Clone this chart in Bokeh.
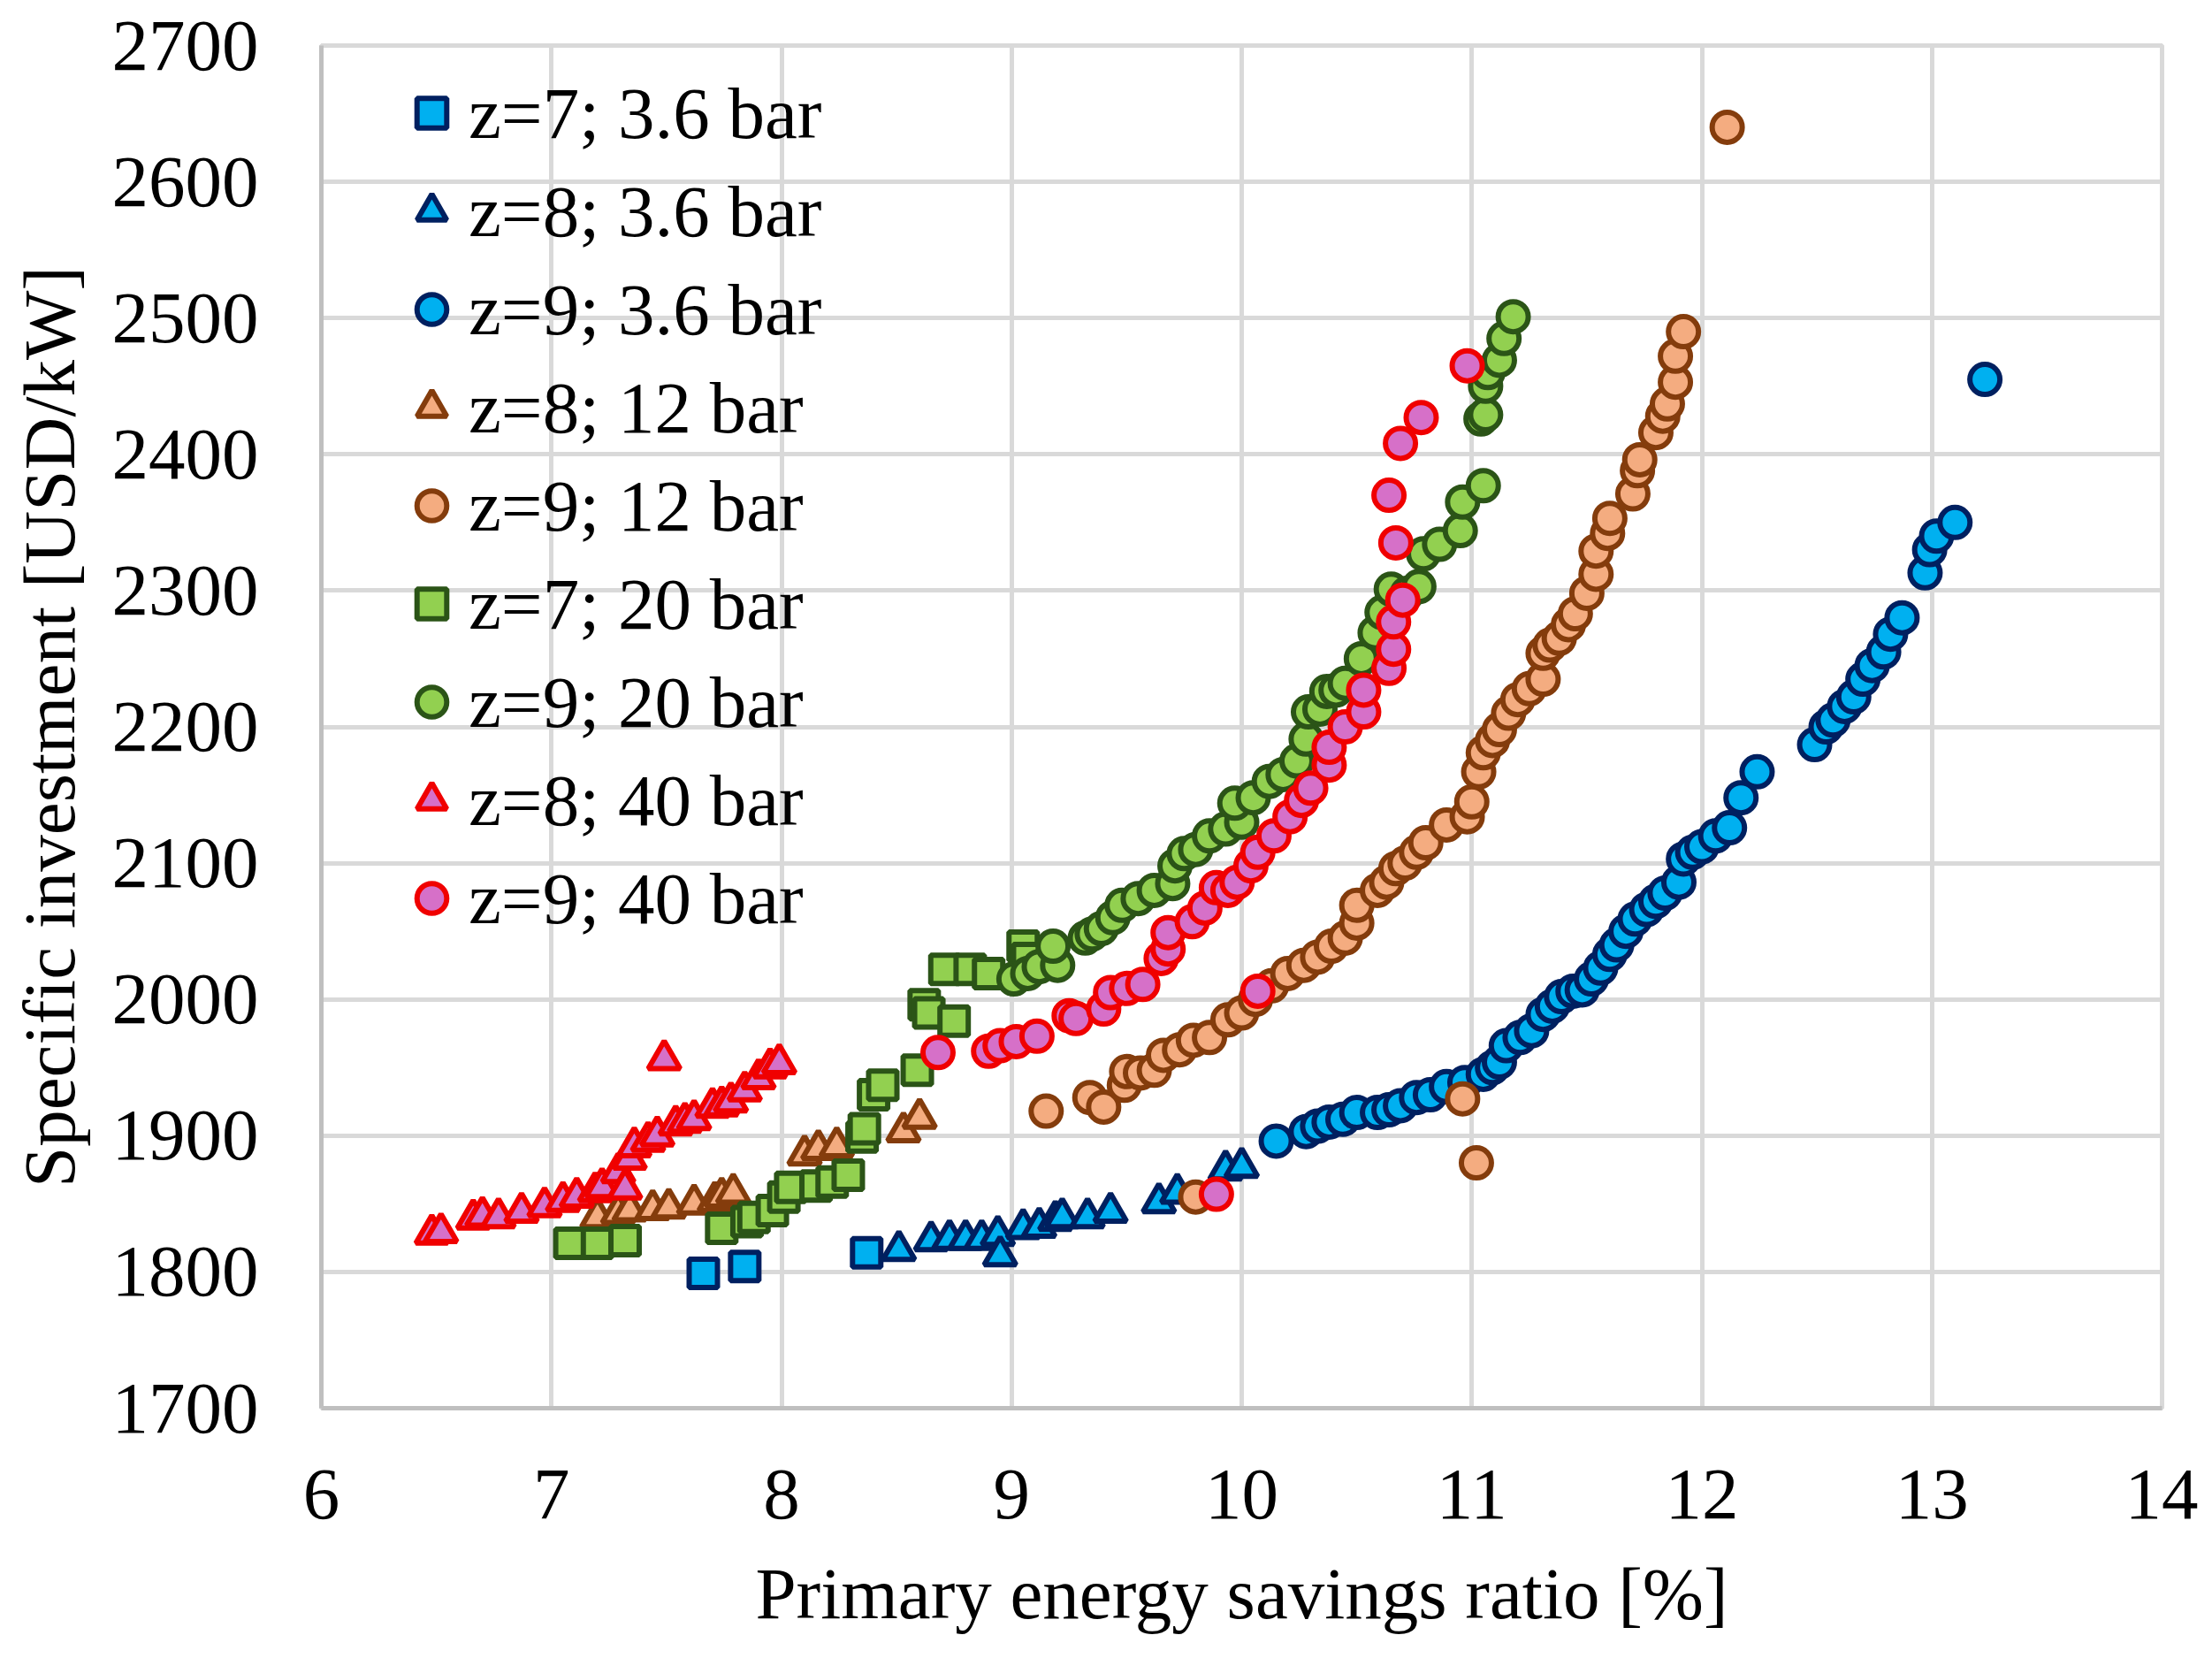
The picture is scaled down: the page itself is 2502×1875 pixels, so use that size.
from bokeh.plotting import figure
from bokeh.models import Range1d, FixedTicker, Legend, LegendItem
from bokeh.embed import file_html
from bokeh.resources import INLINE

# z=7; 3.6 bar
s1_x = [7.66, 7.84, 8.37]
s1_y = [1799, 1804, 1814]

# z=8; 3.6 bar
s2_x = [8.51, 8.65, 8.73, 8.80, 8.87, 8.94, 8.95, 9.05, 9.12, 9.19, 9.22, 9.33, 9.43, 9.64, 9.72, 9.93, 10.00]
s2_y = [1816, 1823, 1824, 1824, 1824, 1827, 1812, 1832, 1833, 1838, 1840, 1840, 1844, 1851, 1858, 1875, 1877]

# z=9; 3.6 bar
s3_x = [10.15, 10.28, 10.33, 10.38, 10.44, 10.50, 10.59, 10.64, 10.69, 10.76, 10.82, 10.89, 10.97, 11.05,
        11.09, 11.12, 11.15, 11.21, 11.26, 11.31, 11.35, 11.39, 11.44, 11.48, 11.52, 11.56, 11.60, 11.63,
        11.67, 11.71, 11.76, 11.80, 11.84, 11.90, 11.92, 11.96, 12.00, 12.06, 12.12, 12.17, 12.24, 12.49,
        12.54, 12.57, 12.62, 12.66, 12.70, 12.74, 12.79, 12.82, 12.87, 12.97, 12.99, 13.02, 13.10, 13.23]
s3_y = [1896, 1903, 1907, 1910, 1912, 1917, 1917, 1919, 1922, 1928, 1930, 1936, 1939, 1945,
        1950, 1954, 1966, 1972, 1977, 1989, 1995, 2002, 2006, 2007, 2015, 2023, 2033, 2040,
        2050, 2059, 2066, 2072, 2078, 2086, 2103, 2108, 2112, 2120, 2126, 2148, 2167, 2187,
        2200, 2205, 2215, 2222, 2235, 2245, 2255, 2268, 2280, 2313, 2330, 2340, 2350, 2455]

# z=8; 12 bar
s4_x = [7.20, 7.29, 7.34, 7.44, 7.51, 7.62, 7.71, 7.74, 7.79, 8.10, 8.16, 8.24, 8.53, 8.60]
s4_y = [1840, 1843, 1845, 1846, 1847, 1850, 1852, 1855, 1858, 1886, 1890, 1892, 1903, 1913]

# z=9; 12 bar
s5_x = [9.15, 9.34, 9.40, 9.49, 9.50, 9.56, 9.62, 9.66, 9.73, 9.79, 9.80, 9.86, 9.94, 10.00, 10.06,
        10.13, 10.20, 10.27, 10.33, 10.39, 10.45, 10.50, 10.50, 10.59, 10.63, 10.67, 10.71, 10.76,
        10.80, 10.89, 10.96, 10.98, 11.00, 11.02, 11.03, 11.05, 11.09, 11.12, 11.16, 11.20, 11.25,
        11.31, 11.31, 11.34, 11.38, 11.42, 11.45, 11.50, 11.54, 11.54, 11.59, 11.60, 11.70, 11.72,
        11.73, 11.80, 11.83, 11.85, 11.885, 11.885, 11.92, 12.11]
s5_y = [1918, 1928, 1921, 1937, 1947, 1946, 1948, 1959, 1963, 1970, 1855, 1972, 1985, 1990, 2000,
        2010, 2019, 2025, 2031, 2039, 2045, 2056, 2069, 2080, 2086, 2096, 2100, 2108,
        2115, 2128, 1927, 2134, 2145, 1880, 2167, 2181, 2190, 2198, 2210, 2220, 2228,
        2235, 2254, 2260, 2265, 2275, 2283, 2298, 2312, 2329, 2342, 2353, 2371, 2388,
        2396, 2416, 2428, 2437, 2453, 2472, 2490, 2640]

# z=7; 20 bar
s6_x = [7.08, 7.20, 7.32, 7.74, 7.85, 7.88, 7.96, 8.01, 8.04, 8.15, 8.22, 8.29, 8.35, 8.36, 8.40,
        8.44, 8.59, 8.62, 8.64, 8.71, 8.75, 8.82, 8.90, 9.05, 9.07]
s6_y = [1821, 1821, 1823, 1832, 1837, 1840, 1845, 1855, 1862, 1863, 1866, 1871, 1899, 1905, 1930,
        1937, 1948, 1996, 1990, 2022, 1984, 2022, 2019, 2039, 2030]

# z=9; 20 bar
s7_x = [9.01, 9.07, 9.12, 9.20, 9.18, 9.32, 9.35, 9.39, 9.44, 9.48, 9.55, 9.62, 9.70, 9.71, 9.75,
        9.80, 9.86, 9.93, 10.00, 9.97, 10.05, 10.12, 10.18, 10.24, 10.28, 10.29, 10.34, 10.37, 10.41,
        10.45, 10.52, 10.58, 10.61, 10.65, 10.72, 10.77, 10.79, 10.86, 10.95, 10.96, 11.05, 11.04,
        11.06, 11.06, 11.07, 11.12, 11.14, 11.18]
s7_y = [2015, 2019, 2024, 2025, 2039, 2045, 2048, 2052, 2060, 2069, 2074, 2080, 2085, 2098, 2107,
        2110, 2120, 2125, 2130, 2144, 2148, 2160, 2165, 2175, 2191, 2211, 2213, 2226, 2227,
        2232, 2250, 2269, 2284, 2301, 2298, 2303, 2327, 2334, 2344, 2365, 2377, 2426,
        2429, 2450, 2460, 2469, 2485, 2501]

# z=8; 40 bar
s8_x = [6.48, 6.52, 6.66, 6.70, 6.77, 6.87, 6.97, 7.05, 7.11, 7.19, 7.22, 7.29, 7.32, 7.34, 7.36,
        7.42, 7.46, 7.49, 7.54, 7.58, 7.62, 7.70, 7.74, 7.78, 7.84, 7.90, 7.95, 7.99]
s8_y = [1828, 1829, 1839, 1841, 1840, 1844, 1848, 1852, 1855, 1859, 1862, 1873, 1861, 1883, 1892,
        1896, 1900, 1956, 1908, 1910, 1912, 1921, 1922, 1925, 1933, 1942, 1950, 1953]

# z=9; 40 bar
s9_x = [8.68, 8.90, 8.95, 9.02, 9.11, 9.25, 9.28, 9.40, 9.43, 9.50, 9.57, 9.65, 9.68, 9.68, 9.785,
        9.84, 9.89, 9.89, 9.94, 9.98, 10.04, 10.07, 10.07, 10.14, 10.21, 10.26, 10.30, 10.38, 10.38,
        10.45, 10.53, 10.53, 10.64, 10.66, 10.66, 10.70, 10.67, 10.64, 10.69, 10.78, 10.98]
s9_y = [1961, 1962, 1966, 1969, 1973, 1988, 1986, 1993, 2005, 2008, 2011, 2030, 2037, 2049, 2057,
        2067, 1857, 2082, 2080, 2086, 2098, 2006, 2108, 2120, 2134, 2146, 2155, 2172, 2185,
        2200, 2211, 2227, 2243, 2257, 2277, 2293, 2335, 2370, 2408, 2427, 2465]

x_ticks = [6, 7, 8, 9, 10, 11, 12, 13, 14]
y_ticks = [1700, 1800, 1900, 2000, 2100, 2200, 2300, 2400, 2500, 2600, 2700]

FONT = "Liberation Serif"
BLUE, NAVY = "#00b0f0", "#002060"
TAN, BROWN = "#f4ac80", "#843c0c"
LGREEN, DGREEN = "#92d050", "#2b5417"
PINK, RED = "#d670c8", "#f00000"

p = figure(width=2486, height=1859, output_backend="svg", toolbar_location=None,
           x_range=Range1d(6, 14), y_range=Range1d(1700, 2700),
           min_border_left=363, min_border_right=41, min_border_top=51, min_border_bottom=267)

p.outline_line_color = "#d9d9d9"
p.outline_line_width = 5
p.background_fill_color = "white"
p.border_fill_color = "white"

p.xaxis.ticker = FixedTicker(ticks=x_ticks)
p.yaxis.ticker = FixedTicker(ticks=y_ticks)
p.xgrid.grid_line_color = "#d9d9d9"
p.ygrid.grid_line_color = "#d9d9d9"
p.xgrid.grid_line_width = 5
p.ygrid.grid_line_width = 5

for ax in (p.xaxis, p.yaxis):
    ax.axis_line_color = "#bfbfbf"
    ax.axis_line_width = 5
    ax.major_tick_line_color = None
    ax.minor_tick_line_color = None
    ax.major_tick_out = 0
    ax.major_tick_in = 0
    ax.major_label_text_font = FONT
    ax.major_label_text_font_size = "83px"
    ax.major_label_text_color = "black"
    ax.axis_label_text_font = FONT
    ax.axis_label_text_font_size = "83px"
    ax.axis_label_text_font_style = "normal"
    ax.axis_label_text_color = "black"

p.xaxis.axis_label = "Primary energy savings ratio [%]"
p.yaxis.axis_label = "Specific investment [USD/kW]"
p.xaxis.major_label_standoff = 70
p.yaxis.major_label_standoff = 71
p.xaxis.axis_label_standoff = 36
p.yaxis.axis_label_standoff = 22

series = [
    ("z=7; 3.6 bar", s1_x, s1_y, "square", BLUE, NAVY, 32),
    ("z=8; 3.6 bar", s2_x, s2_y, "triangle", BLUE, NAVY, 36),
    ("z=9; 3.6 bar", s3_x, s3_y, "circle", BLUE, NAVY, 34),
    ("z=8; 12 bar", s4_x, s4_y, "triangle", TAN, BROWN, 36),
    ("z=9; 12 bar", s5_x, s5_y, "circle", TAN, BROWN, 34),
    ("z=7; 20 bar", s6_x, s6_y, "square", LGREEN, DGREEN, 32),
    ("z=9; 20 bar", s7_x, s7_y, "circle", LGREEN, DGREEN, 34),
    ("z=8; 40 bar", s8_x, s8_y, "triangle", PINK, RED, 36),
    ("z=9; 40 bar", s9_x, s9_y, "circle", PINK, RED, 34),
]

items = []
for label, xs, ys, marker, fill, line, size in series:
    r = p.scatter(xs, ys, marker=marker, size=size, fill_color=fill, line_color=line, line_width=6)
    items.append(LegendItem(label=label, renderers=[r]))

legend = Legend(items=items, location=(83, 521), orientation="vertical")
legend.label_text_font = FONT
legend.label_text_font_size = "83px"
legend.label_text_color = "black"
legend.glyph_width = 84
legend.glyph_height = 111
legend.label_height = 111
legend.label_standoff = 0
legend.spacing = 0
legend.padding = 0
legend.margin = 0
legend.border_line_color = None
legend.background_fill_alpha = 0
p.add_layout(legend, "center")

open("out.html", "w").write(file_html(p, INLINE))
